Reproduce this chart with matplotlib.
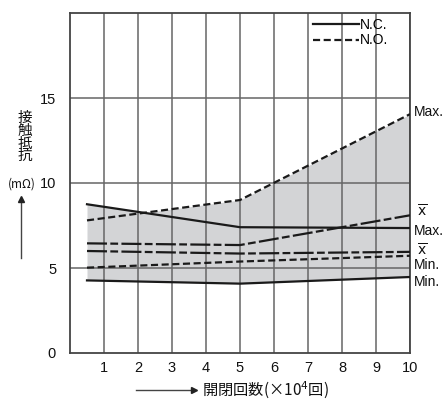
import numpy as np
import matplotlib.pyplot as plt
from matplotlib.lines import Line2D

plt.rcParams['font.family'] = ['Liberation Sans', 'Noto Sans CJK JP', 'DejaVu Sans']

# 開閉回数 (×10^4回)
x = [0.5, 5, 10]
# 接触抵抗 (mΩ)
nc_max = [8.75, 7.4, 7.35]
nc_avg = [6.0, 5.85, 5.95]
nc_min = [4.27, 4.08, 4.47]
no_max = [7.8, 9.0, 14.05]
no_avg = [6.45, 6.35, 8.1]
no_min = [5.02, 5.38, 5.72]

xticks = list(range(1, 11))
yticks = [0, 5, 10, 15]

fig = plt.figure(figsize=(4.46, 3.99), dpi=100)
ax = fig.add_axes([70 / 446, 46 / 399, 340 / 446, 340 / 399])

# 影の範囲 (最大〜最小)
xf = np.linspace(0.5, 10, 200)
upper = np.maximum(np.interp(xf, x, nc_max), np.interp(xf, x, no_max))
lower = np.interp(xf, x, nc_min)
ax.fill_between(xf, lower, upper, color='#d3d4d6', lw=0, zorder=1)

for v in xticks:
    ax.axvline(v, color='#666666', lw=1.1, zorder=2)
for v in [5, 10, 15]:
    ax.axhline(v, color='#666666', lw=1.1, zorder=2)

short = (0, (3.2, 1.6))
avgdash = (0, (9, 1.5, 3.5, 1.5))
lc = '#1a1a1a'
ax.plot(x, nc_max, color=lc, lw=1.6, zorder=3)
ax.plot(x, nc_min, color=lc, lw=1.6, zorder=3)
ax.plot(x, nc_avg, color=lc, lw=1.6, ls=avgdash, zorder=3)
ax.plot(x, no_max, color=lc, lw=1.6, ls=short, zorder=3)
ax.plot(x, no_min, color=lc, lw=1.6, ls=short, zorder=3)
ax.plot(x, no_avg, color=lc, lw=1.6, ls=avgdash, zorder=3)

ax.set_xlim(0, 10)
ax.set_ylim(0, 20)
ax.set_xticks(xticks)
ax.set_yticks(yticks)
ax.tick_params(length=0, labelsize=10.5, pad=6, colors='#111111')
ax.tick_params(axis='y', pad=10)
for s in ax.spines.values():
    s.set_color('#444444')
    s.set_linewidth(1.3)

# 凡例
handles = [Line2D([], [], color=lc, lw=1.6),
           Line2D([], [], color=lc, lw=1.6, ls=short)]
ax.legend(handles, ['N.C.', 'N.O.'], loc='upper left', bbox_to_anchor=(0.715, 0.985),
          frameon=False, fontsize=10, handlelength=3.3, handletextpad=0.1,
          labelspacing=0.1, borderaxespad=0, borderpad=0)

# 右側のラベル
rk = dict(transform=ax.get_yaxis_transform(), fontsize=10, va='center', ha='left',
          color='#111111')
ax.text(1.01, 14.2, 'Max.', **rk)
ax.text(1.02, 8.35, r'$\overline{\mathsf{x}}$', **rk)
ax.text(1.01, 7.2, 'Max.', **rk)
ax.text(1.02, 6.05, r'$\overline{\mathsf{x}}$', **rk)
ax.text(1.01, 5.2, 'Min.', **rk)
ax.text(1.01, 4.15, 'Min.', **rk)

# 縦軸ラベル
fig.text(25 / 446, 1 - 137 / 399, '接\n触\n抵\n抗', fontsize=10.5, ha='center',
         va='center', linespacing=0.9, family=['Noto Sans CJK JP'], color='#111111')
fig.text(22 / 446, 1 - 184 / 399, '(mΩ)', fontsize=8.5, ha='center', va='center',
         family=['Noto Sans CJK JP', 'DejaVu Sans'], color='#111111')
fig.add_artist(plt.Line2D([21 / 446, 21 / 446], [1 - 258 / 399, 1 - 200 / 399],
                          color='#444444', lw=1))
fig.add_artist(plt.Line2D([21 / 446], [1 - 199 / 399], marker='^', color='#222222',
                          markersize=5, lw=0))

# 横軸ラベル
fig.add_artist(plt.Line2D([136 / 446, 192 / 446], [1 - 390 / 399, 1 - 390 / 399],
                          color='#444444', lw=1))
fig.add_artist(plt.Line2D([194 / 446], [1 - 390 / 399], marker='>', color='#222222',
                          markersize=5, lw=0))
fig.text(202 / 446, 1 - 390 / 399, '開閉回数(×10$^4$回)', fontsize=11, ha='left',
         va='center', family=['Noto Sans CJK JP', 'DejaVu Sans'], color='#111111')

fig.savefig('out.png', dpi=100)
